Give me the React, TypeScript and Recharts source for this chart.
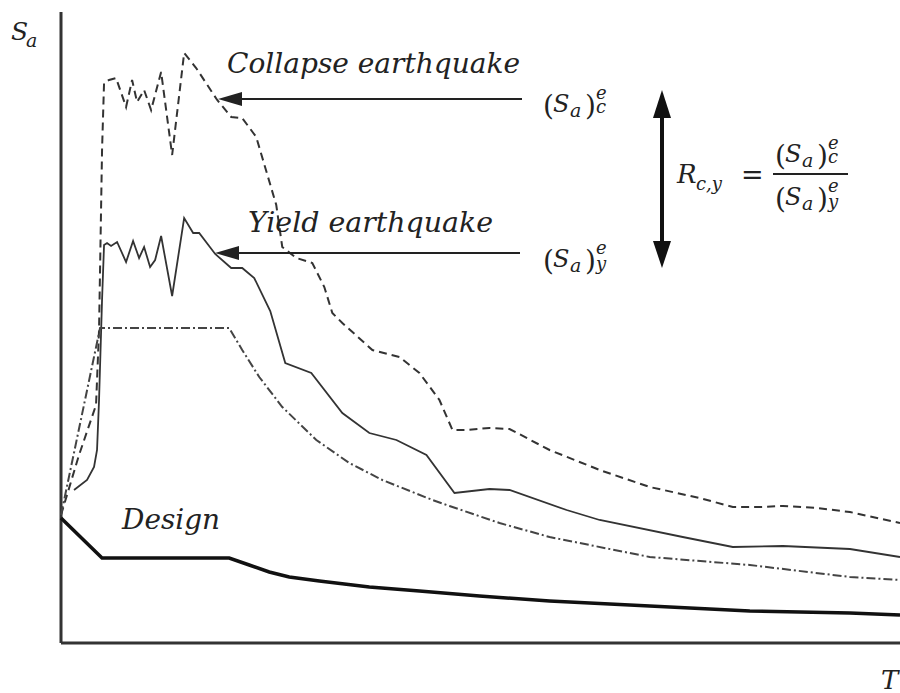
import React from "react";
import { LineChart, Line, XAxis, YAxis, ReferenceLine } from "recharts";

// period T and spectral acceleration Sa (arbitrary units)
const designT = [0, 0.205, 0.84, 0.94, 1.04, 1.14, 1.29, 1.54, 1.79, 2.09, 2.44, 2.94, 3.44, 3.94, 4.19];
const designSa = [0.625, 0.425, 0.425, 0.39, 0.355, 0.33, 0.31, 0.28, 0.26, 0.235, 0.21, 0.185, 0.16, 0.15, 0.14];

const codeT = [0, 0.195, 0.84, 0.905, 0.99, 1.105, 1.275, 1.44, 1.605, 1.855, 1.94, 2.19, 2.44, 2.94, 3.44, 3.94, 4.19];
const codeSa = [0.64, 1.575, 1.575, 1.465, 1.33, 1.18, 1.015, 0.9, 0.815, 0.715, 0.685, 0.6, 0.53, 0.43, 0.39, 0.33, 0.315];

const yieldT = [
  0.065, 0.13, 0.165, 0.18, 0.19, 0.205, 0.215, 0.23, 0.25, 0.28, 0.325, 0.36, 0.39, 0.415, 0.445, 0.47,
  0.5, 0.555, 0.615, 0.66, 0.69, 0.77, 0.85, 0.905, 0.965, 1.045, 1.12, 1.25, 1.405, 1.54, 1.675, 1.825,
  1.965, 2.14, 2.24, 2.525, 2.69, 3.105, 3.355, 3.605, 3.94, 4.19,
];
const yieldSa = [
  0.765, 0.815, 0.88, 0.965, 1.215, 1.715, 1.99, 2.0, 1.985, 2.005, 1.905, 2.01, 1.925, 1.98, 1.88, 1.915,
  2.035, 1.735, 2.125, 2.05, 2.05, 1.945, 1.875, 1.875, 1.825, 1.66, 1.4, 1.35, 1.15, 1.05, 1.015, 0.94,
  0.75, 0.77, 0.765, 0.665, 0.615, 0.53, 0.48, 0.485, 0.47, 0.43,
];

const collapseT = [
  0, 0.09, 0.175, 0.19, 0.205, 0.215, 0.24, 0.275, 0.325, 0.355, 0.38, 0.415, 0.45, 0.5, 0.555, 0.615,
  0.675, 0.78, 0.85, 0.905, 0.975, 1.075, 1.105, 1.175, 1.255, 1.315, 1.355, 1.405, 1.555, 1.69, 1.79,
  1.89, 1.955, 2.025, 2.14, 2.24, 2.44, 2.69, 2.94, 3.19, 3.355, 3.49, 3.605, 3.775, 3.94, 4.19,
];
const collapseSa = [
  0.64, 0.94, 1.19, 1.565, 2.465, 2.8, 2.815, 2.825, 2.68, 2.815, 2.705, 2.765, 2.665, 2.855, 2.44, 2.95,
  2.875, 2.715, 2.63, 2.625, 2.53, 2.19, 1.98, 1.925, 1.9, 1.78, 1.65, 1.6, 1.465, 1.43, 1.35,
  1.215, 1.065, 1.065, 1.075, 1.07, 0.965, 0.865, 0.78, 0.725, 0.68, 0.68, 0.685, 0.675, 0.655, 0.6,
];

const zip = (t: number[], s: number[]) => t.map((T, i) => ({ T, Sa: s[i] }));

const FONT = "'DejaVu Serif', serif";
const INK = "#222";

// (Sa)^e_sub drawn as one text element
const SaExpr = ({ x, y, sub }: { x: number; y: number; sub: string }) => (
  <text fontFamily={FONT} fill={INK}>
    <tspan x={x} y={y + 3} fontSize={28}>(</tspan>
    <tspan x={x + 10} y={y} fontSize={24} fontStyle="italic">S</tspan>
    <tspan x={x + 27} y={y + 5} fontSize={19} fontStyle="italic">a</tspan>
    <tspan x={x + 42} y={y + 3} fontSize={28}>)</tspan>
    <tspan x={x + 53} y={y - 13} fontSize={18} fontStyle="italic">e</tspan>
    <tspan x={x + 53} y={y + (sub === "y" ? 3 : 1)} fontSize={18} fontStyle="italic">{sub}</tspan>
  </text>
);

const Annotations = () => (
  <svg width={900} height={693} style={{ position: "absolute", left: 0, top: 0, pointerEvents: "none" }}>
    <g fontFamily={FONT} fill={INK} fontStyle="italic">
      <text x={227} y={73} fontSize={27} textLength={293} lengthAdjust="spacingAndGlyphs">Collapse earthquake</text>
      <text x={248} y={232} fontSize={27} textLength={245} lengthAdjust="spacingAndGlyphs">Yield earthquake</text>
      <text x={122} y={529} fontSize={27} textLength={98} lengthAdjust="spacingAndGlyphs">Design</text>
      <text>
        <tspan x={11} y={40} fontSize={25}>S</tspan>
        <tspan x={26} y={47} fontSize={19}>a</tspan>
      </text>
      <text x={881} y={689} fontSize={26}>T</text>
    </g>

    {/* arrows pointing at the two spectra */}
    <line x1={238} y1={99} x2={522} y2={99} stroke={INK} strokeWidth={2} />
    <polygon points="218,99 242,92 242,106" fill={INK} />
    <line x1={235} y1={253} x2={520} y2={253} stroke={INK} strokeWidth={2} />
    <polygon points="215,253 239,246 239,260" fill={INK} />

    <SaExpr x={543} y={112} sub="c" />
    <SaExpr x={543} y={267} sub="y" />

    {/* ratio arrow */}
    <line x1={662} y1={112} x2={662} y2={246} stroke="#111" strokeWidth={4} />
    <polygon points="662,90 653,118 671,118" fill="#111" />
    <polygon points="662,268 653,241 671,241" fill="#111" />

    <text fontFamily={FONT} fill={INK}>
      <tspan x={677} y={183} fontSize={26} fontStyle="italic">R</tspan>
      <tspan x={696} y={190} fontSize={18} fontStyle="italic">c,y</tspan>
      <tspan x={741} y={184} fontSize={27}>=</tspan>
    </text>
    <line x1={773} y1={174} x2={848} y2={174} stroke={INK} strokeWidth={2} />
    <SaExpr x={775} y={162} sub="c" />
    <SaExpr x={775} y={205} sub="y" />
  </svg>
);

export default function App() {
  return (
    <div style={{ position: "absolute", left: 0, top: 0, width: 900, height: 693, background: "#fff" }}>
      <LineChart width={900} height={693} margin={{ top: 12, right: 0, left: 61, bottom: 50 }}>
        <XAxis type="number" dataKey="T" domain={[0, 4.19]} hide allowDuplicatedCategory={false} />
        <YAxis type="number" domain={[0, 3.155]} hide />
        <ReferenceLine x={0} stroke="#333" strokeWidth={3} ifOverflow="visible" />
        <ReferenceLine y={0} stroke="#333" strokeWidth={3} ifOverflow="visible" />
        <Line data={zip(collapseT, collapseSa)} dataKey="Sa" stroke="#333" strokeWidth={2} strokeDasharray="8 5" dot={false} isAnimationActive={false} />
        <Line data={zip(yieldT, yieldSa)} dataKey="Sa" stroke="#333" strokeWidth={1.8} dot={false} isAnimationActive={false} />
        <Line data={zip(codeT, codeSa)} dataKey="Sa" stroke="#444" strokeWidth={2} strokeDasharray="9 3 2 3" dot={false} isAnimationActive={false} />
        <Line data={zip(designT, designSa)} dataKey="Sa" stroke="#111" strokeWidth={3.5} dot={false} isAnimationActive={false} />
      </LineChart>
      <Annotations />
    </div>
  );
}
